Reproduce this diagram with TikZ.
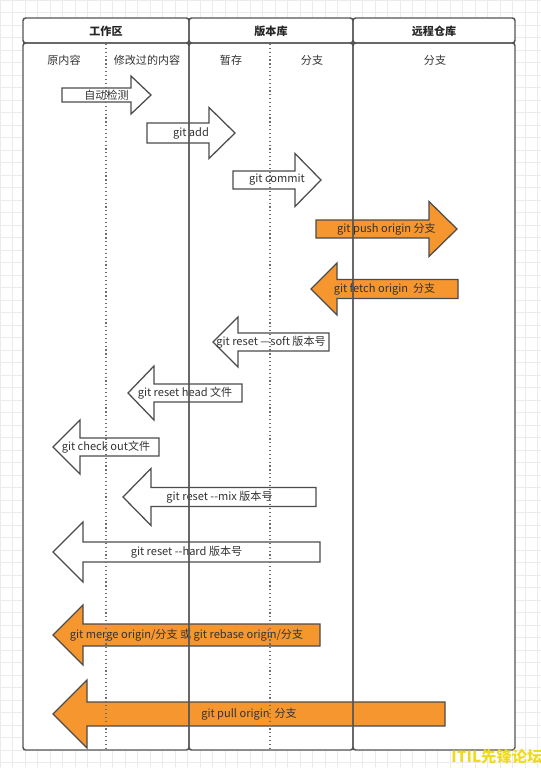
\documentclass[tikz,border=0pt]{standalone}
\usepackage{fontspec}
\setmainfont{Noto Sans CJK SC}
\usepackage{tikz}
\definecolor{gitOrange}{HTML}{F6962F}
\definecolor{laneGray}{HTML}{555555}
\definecolor{gridGray}{HTML}{EBEBEB}
\definecolor{markYellow}{HTML}{EEDC1C}
\tikzset{
    lane_box/.style={
        draw=laneGray, line width=1.1pt, rounded corners=2pt
    },
    lane_split/.style={
        draw=laneGray!85, line width=0.9pt, dotted
    },
    flow_white/.style={
        draw=black!70, line width=0.95pt, fill=white
    },
    flow_orange/.style={
        draw=black!70, line width=0.95pt, fill=gitOrange
    },
    lbl/.style={
        font=\fontsize{8.3}{10}\selectfont, text=black!80, inner sep=0pt
    },
    head_lbl/.style={
        font=\fontsize{8.3}{10}\selectfont\bfseries, text=black!85, inner sep=0pt
    }
}
% block arrow: style, name, tail x, base x, tip x, y, shaft half, head half, text
\newcommand{\flowarrow}[9][flow_white]{%
    \draw[#1] (#3,{#6-#7}) -- (#4,{#6-#7}) -- (#4,{#6-#8}) -- (#5,#6)
        -- (#4,{#6+#8}) -- (#4,{#6+#7}) -- (#3,{#6+#7}) -- cycle;
    \node[lbl] (#2) at ({(#3+#5)/2},#6) {#9};
}

\begin{document}
\begin{tikzpicture}[x=0.75pt, y=-0.75pt]

    \useasboundingbox (0,0) rectangle (541,768);

    % Background grid
    \foreach \gx in {0,12.5,...,541} {
        \draw[gridGray, line width=0.4pt] (\gx,0) -- (\gx,768);
    }
    \foreach \gy in {0,12.5,...,768} {
        \draw[gridGray, line width=0.4pt] (0,\gy) -- (541,\gy);
    }

    % Lane backgrounds
    \fill[white, rounded corners=2pt] (23,18) rectangle (515,750);

    % Local -> repository steps
    \flowarrow{detect}{62}{131}{151}{95}{7}{19}{自动检测}
    \flowarrow{add}{147}{209}{235}{133}{10}{25.5}{git add}
    \flowarrow{commit}{233}{295}{321}{180}{9}{26.5}{git commit}

    % Remote exchange
    \flowarrow[flow_orange]{push}{316}{429}{457}{229}{9}{27.5}{git push origin 分支}
    \flowarrow[flow_orange]{fetch}{458}{337}{311}{289}{9.5}{26}{git fetch origin\ \ 分支}

    % Undo steps
    \flowarrow{soft}{329}{238}{213}{342}{9}{25}{git reset —soft 版本号}
    \flowarrow{headfile}{242}{154}{128}{393}{9}{27}{git reset head 文件}
    \flowarrow{checkout}{159}{80}{53}{447}{9}{27}{git check out文件}
    \flowarrow{mix}{316}{151}{123}{497}{9.5}{28.5}{git reset -{}-mix 版本号}
    \flowarrow{hard}{320}{83}{53}{552}{10}{30}{git reset -{}-hard 版本号}

    % Remote -> local
    \flowarrow[flow_orange]{merge}{320}{83}{53}{635}{11}{30}{git merge origin/分支 或 git rebase origin/分支}
    \flowarrow[flow_orange]{pull}{445}{87}{53}{714}{12}{34}{git pull origin\ \ 分支}

    % Lanes and headers
    \draw[lane_box] (23,43) rectangle (189,750);
    \draw[lane_box] (189,43) rectangle (353,750);
    \draw[lane_box] (353,43) rectangle (515,750);
    \draw[lane_box] (23,18) rectangle (189,43);
    \draw[lane_box] (189,18) rectangle (353,43);
    \draw[lane_box] (353,18) rectangle (515,43);
    \draw[lane_split] (106,44) -- (106,749);
    \draw[lane_split] (270,44) -- (270,749);

    \node[head_lbl] (work) at (106,31) {工作区};
    \node[head_lbl] (repo) at (271,31) {版本库};
    \node[head_lbl] (remote) at (434,31) {远程仓库};

    \node[lbl] (orig) at (64,60) {原内容};
    \node[lbl] (changed) at (147,60) {修改过的内容};
    \node[lbl] (stage) at (231,60) {暂存};
    \node[lbl] (branch) at (312,60) {分支};
    \node[lbl] (rbranch) at (435,60) {分支};

    % Watermark
    \node[font=\fontsize{11.5}{12}\selectfont\bfseries, text=markYellow, inner sep=0pt] (mark) at (497,757) {ITIL先锋论坛};

\end{tikzpicture}
\end{document}
